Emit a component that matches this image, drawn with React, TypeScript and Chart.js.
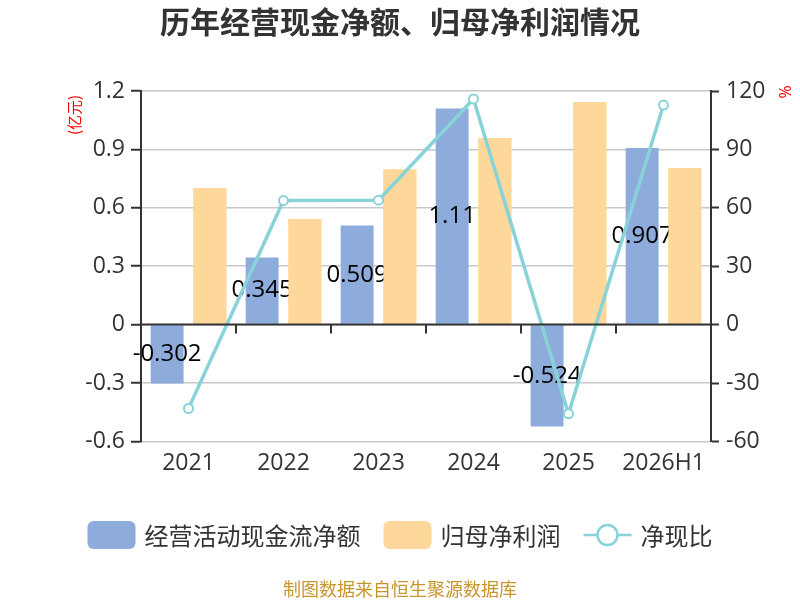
import { useEffect, useRef } from "react"
import { Chart, registerables } from "chart.js"
import type { Plugin } from "chart.js"

Chart.register(...registerables)

const CJK = '"Noto Sans CJK SC", sans-serif'
const NUM = '"Open Sans", "Noto Sans CJK SC", sans-serif'

const years = ["2021", "2022", "2023", "2024", "2025", "2026H1"]
const operatingCash = [-0.302, 0.345, 0.509, 1.11, -0.524, 0.907]
const netProfit = [0.701, 0.542, 0.797, 0.958, 1.143, 0.804]
const cashRatio = [-43.1, 63.7, 63.9, 115.9, -45.8, 112.8]
const seriesNames = ["经营活动现金流净额", "归母净利润", "净现比"]
const leftTicks = [-0.6, -0.3, 0, 0.3, 0.6, 0.9, 1.2]
const rightTicks = [-60, -30, 0, 30, 60, 90, 120]

const BLUE = "#8eacdb"
const ORANGE = "#fed89b"
const CYAN = "#88d3d7"
const AXIS = "#333333"

// value labels on the blue bars; the orange bars are painted again on top,
// so a label that runs into the neighbour bar gets hidden under it
const barLabels: Plugin<"bar"> = {
  id: "barLabels",
  afterDatasetDraw(chart, args) {
    if (args.index !== 0) return
    const ctx = chart.ctx
    ctx.save()
    ctx.font = `24px ${NUM}`
    ctx.fillStyle = "#000"
    ctx.textAlign = "center"
    ctx.textBaseline = "middle"
    args.meta.data.forEach((el, i) => {
      const { x, y, base } = el.getProps(["x", "y", "base"], true) as any
      ctx.fillText(String(operatingCash[i]), x, (y + base) / 2)
    })
    ctx.restore()
    chart.getDatasetMeta(1).data.forEach((el) => el.draw(ctx))
  },
}

// dark zero line with category ticks, legend, unit labels
const decorations: Plugin<"bar"> = {
  id: "decorations",
  afterDatasetsDraw(chart) {
    const { ctx, chartArea } = chart
    const xs = chart.scales.x
    const y0 = chart.scales.y.getPixelForValue(0)
    ctx.save()
    ctx.strokeStyle = AXIS
    ctx.lineWidth = 2
    ctx.beginPath()
    ctx.moveTo(chartArea.left, y0)
    ctx.lineTo(chartArea.right, y0)
    for (let i = 0; i < years.length - 1; i++) {
      const bx = Math.round((xs.getPixelForValue(i) + xs.getPixelForValue(i + 1)) / 2)
      ctx.moveTo(bx, y0)
      ctx.lineTo(bx, y0 + 9)
    }
    ctx.stroke()
    ctx.restore()
  },
  afterDraw(chart) {
    const ctx = chart.ctx
    const dpr = chart.currentDevicePixelRatio
    ctx.save()

    // unit labels
    ctx.fillStyle = "#ff0000"
    ctx.textAlign = "center"
    ctx.textBaseline = "middle"
    ctx.font = `15px ${CJK}`
    ctx.translate(74, 115)
    ctx.rotate(-Math.PI / 2)
    ctx.fillText("(亿元)", 0, 0)
    ctx.setTransform(dpr, 0, 0, dpr, 0, 0)
    ctx.font = `16px ${NUM}`
    ctx.translate(786, 92)
    ctx.rotate(-Math.PI / 2)
    ctx.fillText("%", 0, 0)
    ctx.setTransform(dpr, 0, 0, dpr, 0, 0)

    // legend
    const boxW = 48
    const gap = 9
    const itemGap = 23
    ctx.font = `24px ${CJK}`
    const widths = chart.data.datasets.map((ds) => boxW + gap + ctx.measureText(String(ds.label)).width)
    const total = widths.reduce((a, b) => a + b, 0) + itemGap * (widths.length - 1)
    let x = chart.width / 2 - total / 2
    const y = 535
    chart.data.datasets.forEach((ds: any, i) => {
      if (ds.type === "line") {
        ctx.strokeStyle = CYAN
        ctx.lineWidth = 2.5
        ctx.beginPath()
        ctx.moveTo(x, y)
        ctx.lineTo(x + boxW, y)
        ctx.stroke()
        ctx.beginPath()
        ctx.arc(x + boxW / 2, y, 10, 0, Math.PI * 2)
        ctx.fillStyle = "#fff"
        ctx.fill()
        ctx.stroke()
      } else {
        ctx.fillStyle = ds.backgroundColor
        ctx.beginPath()
        ctx.roundRect(x, y - 14, boxW, 28, 6)
        ctx.fill()
      }
      ctx.fillStyle = "#333"
      ctx.textAlign = "left"
      ctx.textBaseline = "middle"
      ctx.fillText(String(ds.label), x + boxW + gap, y + 1)
      x += widths[i] + itemGap
    })
    ctx.restore()
  },
}

export default function App() {
  const canvasRef = useRef<HTMLCanvasElement>(null)

  useEffect(() => {
    if (!canvasRef.current) return
    const chart = new Chart(canvasRef.current, {
      type: "bar",
      data: {
        labels: years,
        datasets: [
          {
            type: "bar",
            label: seriesNames[0],
            data: operatingCash,
            backgroundColor: BLUE,
            yAxisID: "y",
            order: 1,
            barPercentage: 0.77,
            categoryPercentage: 0.9,
          },
          {
            type: "bar",
            label: seriesNames[1],
            data: netProfit,
            backgroundColor: ORANGE,
            yAxisID: "y",
            order: 1,
            barPercentage: 0.77,
            categoryPercentage: 0.9,
          },
          {
            type: "line",
            label: seriesNames[2],
            data: cashRatio,
            borderColor: CYAN,
            borderWidth: 3.5,
            pointRadius: 4.5,
            pointBackgroundColor: "#fff",
            pointBorderColor: CYAN,
            pointBorderWidth: 2,
            yAxisID: "y1",
            order: 0,
          } as any,
        ],
      },
      options: {
        responsive: true,
        maintainAspectRatio: false,
        animation: false,
        layout: { padding: 0 },
        plugins: {
          legend: { display: false },
          tooltip: { enabled: false },
          title: {
            display: true,
            text: "历年经营现金净额、归母净利润情况",
            color: "#333",
            font: { family: CJK, size: 30, weight: "bold" },
            padding: { top: 4, bottom: 51 },
          },
          subtitle: {
            display: true,
            position: "bottom",
            text: "制图数据来自恒生聚源数据库",
            color: "#c8952c",
            font: { family: CJK, size: 18 },
            padding: { top: 97, bottom: 0 },
          },
        },
        scales: {
          x: {
            grid: { display: false, drawTicks: false, tickLength: 0 },
            border: { display: false },
            ticks: { color: AXIS, font: { family: NUM, size: 23 }, padding: 8 },
            afterFit: (s) => {
              s.height = 40
            },
          },
          y: {
            position: "left",
            min: leftTicks[0],
            max: leftTicks[leftTicks.length - 1],
            afterBuildTicks: (s) => {
              s.ticks = leftTicks.map((v) => ({ value: v }))
            },
            grid: { color: "#c8c8c8", lineWidth: 1.5, tickColor: AXIS, tickLength: 10, tickWidth: 2 },
            border: { color: AXIS, width: 2 },
            ticks: {
              color: AXIS,
              font: { family: NUM, size: 23 },
              padding: 6,
              callback: (v) => String(v),
            },
            afterFit: (s) => {
              s.width = 141
            },
          },
          y1: {
            position: "right",
            min: rightTicks[0],
            max: rightTicks[rightTicks.length - 1],
            afterBuildTicks: (s) => {
              s.ticks = rightTicks.map((v) => ({ value: v }))
            },
            grid: { drawOnChartArea: false, tickColor: AXIS, tickLength: 8, tickWidth: 2 },
            border: { color: AXIS, width: 2 },
            ticks: {
              color: AXIS,
              font: { family: NUM, size: 23 },
              padding: 7,
              callback: (v) => String(v),
            },
            afterFit: (s) => {
              s.width = 89
            },
          },
        },
      },
      plugins: [barLabels, decorations],
    })
    return () => chart.destroy()
  }, [])

  return (
    <div style={{ position: "fixed", left: 0, top: 0, width: 800, height: 600, background: "#fff" }}>
      <canvas ref={canvasRef} />
    </div>
  )
}
